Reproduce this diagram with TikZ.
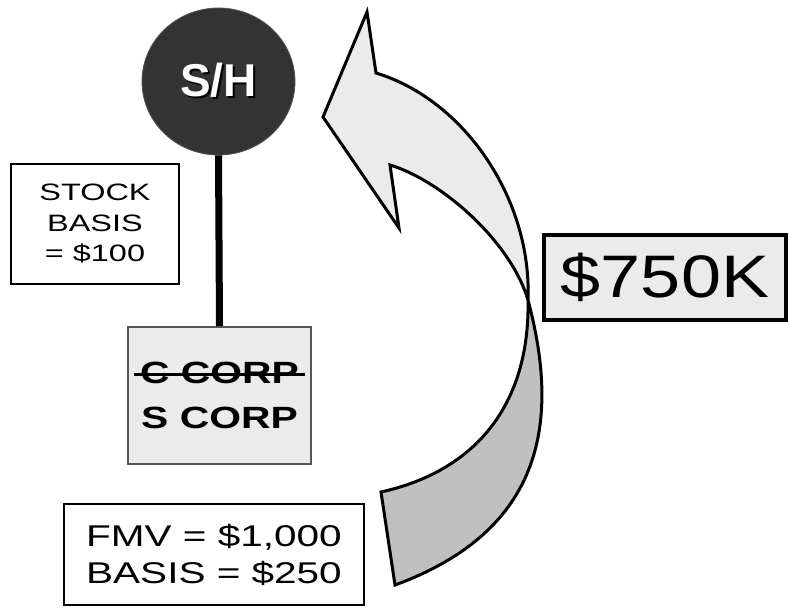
\documentclass[tikz,border=0pt]{standalone}
\usepackage{fontspec}
\usetikzlibrary{shapes.geometric}
\setmainfont{Liberation Sans}
% widened sans faces for the box labels
\newfontfamily\stockfont[FakeStretch=1.37]{Liberation Sans}
\newfontfamily\corpfont[FakeStretch=1.33]{Liberation Sans}
\newfontfamily\valuefont[FakeStretch=1.35]{Liberation Sans}
\newfontfamily\bigfont[FakeStretch=1.2]{Liberation Sans}

\definecolor{panel}{HTML}{EBEBEB}
\definecolor{backside}{HTML}{C0C0C0}
\definecolor{holder}{HTML}{333333}
\definecolor{rim}{HTML}{555555}

% struck-through text
\newsavebox\strikebox
\newcommand\crossout[1]{\sbox\strikebox{#1}\usebox\strikebox\llap{\rule[0.26em]{\dimexpr\wd\strikebox+12pt\relax}{2.8pt}\hspace{-6pt}}}
% text with a drop shadow: colour, offset, text
\newcommand\shadowed[3]{\rlap{\color{#1}\raisebox{-#2}{\hspace{#2}#3}}#3}

\tikzset{
  labelbox/.style={draw, line width=2pt, inner sep=0pt, align=center},
  ribbon/.style={draw, line width=3pt, line join=miter, miter limit=5}
}

\begin{document}
\begin{tikzpicture}[x=1pt, y=-1pt]
\useasboundingbox (0,0) rectangle (789,610);

% shareholder and the company below it
\node[ellipse, draw=rim, line width=0.8pt, fill=holder, inner sep=0pt,
      minimum width=153pt, minimum height=147pt, text=white,
      font=\fontsize{46}{46}\selectfont\bfseries] (sh) at (218.5,81.5)
      {\shadowed{black}{2pt}{S/H}};
\node[labelbox, draw=rim, fill=panel, minimum width=183pt, minimum height=137pt,
      font=\corpfont\bfseries\fontsize{30.7}{45}\selectfont] (corp) at (219.5,395.5)
      {\crossout{C CORP}\\S CORP};
\draw[line width=7pt] (sh.south) -- (corp.north);

\node[labelbox, minimum width=168pt, minimum height=120pt,
      font=\stockfont\fontsize{23.7}{30.5}\selectfont] (stock) at (95,224)
      {STOCK\\BASIS\\= \$100};

\node[labelbox, minimum width=300pt, minimum height=101pt,
      font=\valuefont\fontsize{30}{37}\selectfont] (fmv) at (214,554.5)
      {FMV = \$1,000\\BASIS = \$250};

% twisted curved arrow: back side below the twist, front side with the head
\coordinate (twist) at (528,300);
\path[ribbon, fill=backside] (twist) .. controls (560,420) and (545,530) .. (395,585)
  -- (381,492) .. controls (480,470) and (530,400) .. (twist) -- cycle;
\path[ribbon, fill=panel] (twist) .. controls (532,200) and (465,100) .. (376,73)
  -- (367,12) -- (323,117) -- (399,228) -- (390,165)
  .. controls (440,180) and (510,240) .. (twist) -- cycle;

\node[draw, fill=panel, line width=4pt, inner sep=0pt, minimum width=242pt,
      minimum height=85pt, font=\bigfont\fontsize{60}{60}\selectfont] (gain) at (665,277.5)
      {\$750K};
\end{tikzpicture}
\end{document}
